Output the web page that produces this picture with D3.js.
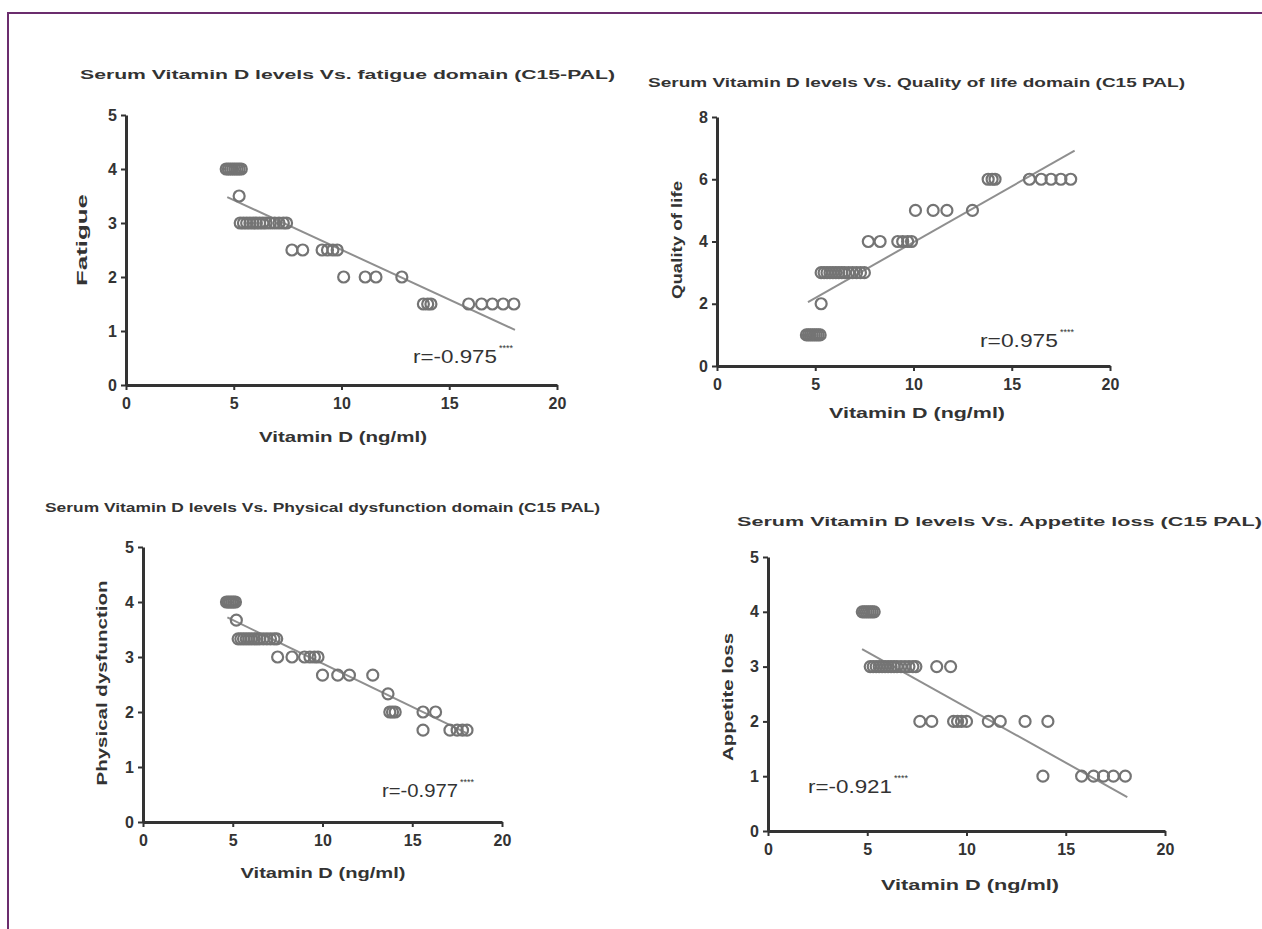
<!DOCTYPE html>
<html>
<head>
	<title>Vitamin D scatter plots</title>
	<script src="https://d3js.org/d3.v7.min.js" charset="utf-8"></script>
	<style>
		body { margin: 0; background: #fff; }
		text { font-family: "Liberation Sans", Arial, sans-serif; fill: #333; }
	</style>
</head>
<body>
	<svg width="1262" height="929"></svg>
	<script>
		// data (x = vitamin D ng/ml, y = domain score)
		const fatigueVitD = [4.65,4.75,4.85,4.95,5.05,5.15,5.25,5.35, 5.25, 5.3,5.45,5.6,5.75,5.9,6.05,6.2,6.35,6.5,6.7,6.9,7.1,7.3,7.45, 7.7,8.2,9.1,9.35,9.6,9.8, 10.1,11.1,11.6,12.8, 13.8,14.0,14.15, 15.9,16.5,17.0,17.5,18.0];
		const fatigueScore = [4,4,4,4,4,4,4,4, 3.5, 3,3,3,3,3,3,3,3,3,3,3,3,3,3, 2.5,2.5,2.5,2.5,2.5,2.5, 2,2,2,2, 1.5,1.5,1.5, 1.5,1.5,1.5,1.5,1.5];

		const qolVitD = [4.55,4.65,4.75,4.85,4.95,5.05,5.15,5.25, 5.3, 5.3,5.45,5.6,5.75,5.9,6.05,6.2,6.35,6.5,6.7,6.9,7.1,7.3,7.5, 7.7,8.3,9.2,9.45,9.7,9.9, 10.1,11.0,11.7,13.0, 13.8,14.0,14.15, 15.9,16.5,17.0,17.5,18.0];
		const qolScore = [1,1,1,1,1,1,1,1, 2, 3,3,3,3,3,3,3,3,3,3,3,3,3,3, 4,4,4,4,4,4, 5,5,5,5, 6,6,6, 6,6,6,6,6];

		const physVitD = [4.65,4.75,4.85,4.95,5.05,5.15, 5.2, 5.3,5.45,5.6,5.75,5.9,6.05,6.2,6.35,6.5,6.7,6.9,7.1,7.3,7.45, 7.5,8.3,9.0,9.3,9.55,9.75, 10.0,10.85,11.5,12.8, 13.65, 13.75,13.9,14.05, 15.6,16.3, 15.6, 17.1,17.5,17.8,18.05];
		const physScore = [4,4,4,4,4,4, 3.67, 3.33,3.33,3.33,3.33,3.33,3.33,3.33,3.33,3.33,3.33,3.33,3.33,3.33,3.33, 3,3,3,3,3,3, 2.67,2.67,2.67,2.67, 2.33, 2,2,2, 2,2, 1.67, 1.67,1.67,1.67,1.67];

		const appVitD = [4.75,4.85,4.95,5.05,5.15,5.25,5.35, 5.15,5.3,5.45,5.6,5.75,5.9,6.05,6.2,6.35,6.5,6.7,6.9,7.1,7.3,7.45, 8.5,9.2, 7.65,8.25, 9.35,9.55,9.75,10.0, 11.1,11.7, 12.95, 14.1, 13.85, 15.8,16.4,16.9,17.4,18.0];
		const appScore = [4,4,4,4,4,4,4, 3,3,3,3,3,3,3,3,3,3,3,3,3,3,3, 3,3, 2,2, 2,2,2,2, 2,2, 2, 2, 1, 1,1,1,1,1];

		// regression lines [x, y] end points
		const fatigueFit = [[4.7, 3.48], [18.05, 1.02]];
		const qolFit = [[4.63, 2.05], [18.2, 6.92]];
		const physFit = [[4.7, 3.72], [18.0, 1.62]];
		const appFit = [[4.74, 3.32], [18.1, 0.62]];

		const xTicks = [0, 5, 10, 15, 20];
		const yTicks5 = [0, 1, 2, 3, 4, 5];
		const yTicks8 = [0, 2, 4, 6, 8];

		const titles = [
			"Serum Vitamin D levels Vs. fatigue domain (C15-PAL)",
			"Serum Vitamin D levels Vs. Quality of life domain (C15 PAL)",
			"Serum Vitamin D levels Vs. Physical dysfunction domain (C15 PAL)",
			"Serum Vitamin D levels Vs. Appetite loss (C15 PAL)"
		];
		const yLabels = ["Fatigue", "Quality of life", "Physical dysfunction", "Appetite loss"];
		const xLabel = "Vitamin D (ng/ml)";
		const rValues = ["r=-0.975", "r=0.975", "r=-0.977", "r=-0.921"];

		// layout of each panel (pixels)
		const panels = [
			{ x: fatigueVitD, y: fatigueScore, fit: fatigueFit, yMax: 5, yTicks: yTicks5,
			  left: 126, right: 557, top: 115, bottom: 385,
			  title: [80, 79, 535], ylab: [82, 240, 92], xlab: [343, 442, 168], r: [413, 363, 84] },
			{ x: qolVitD, y: qolScore, fit: qolFit, yMax: 8, yTicks: yTicks8,
			  left: 717, right: 1110, top: 117, bottom: 366,
			  title: [648, 87, 537], ylab: [677, 240, 118], xlab: [917, 418, 176], r: [980, 347, 78] },
			{ x: physVitD, y: physScore, fit: physFit, yMax: 5, yTicks: yTicks5,
			  left: 143, right: 502, top: 547, bottom: 822,
			  title: [45, 512, 555], ylab: [102, 683, 205], xlab: [323, 878, 165], r: [382, 797, 76] },
			{ x: appVitD, y: appScore, fit: appFit, yMax: 5, yTicks: yTicks5,
			  left: 768, right: 1165, top: 557, bottom: 831,
			  title: [737, 526, 525], ylab: [728, 697, 128], xlab: [970, 890, 178], r: [808, 793, 84] }
		];

		const svg = d3.select('svg');

		// purple frame
		svg.append('path')
			.attr('d', 'M8,929 V13 H1262')
			.attr('fill', 'none')
			.attr('stroke', '#6b2d6d')
			.attr('stroke-width', 2);

		panels.forEach(function (p, i) {
			const xScale = d3.scaleLinear().domain([0, 20]).range([p.left, p.right]);
			const yScale = d3.scaleLinear().domain([0, p.yMax]).range([p.bottom, p.top]);

			const g = svg.append('g');

			const xAxis = g.append('g')
				.attr('transform', `translate(0, ${p.bottom})`)
				.call(d3.axisBottom(xScale).tickValues(xTicks).tickFormat(d3.format('d'))
					.tickSize(5).tickSizeOuter(0).tickPadding(8));
			const yAxis = g.append('g')
				.attr('transform', `translate(${p.left}, 0)`)
				.call(d3.axisLeft(yScale).tickValues(p.yTicks).tickFormat(d3.format('d'))
					.tickSize(5).tickSizeOuter(0).tickPadding(4));

			[xAxis, yAxis].forEach(function (a) {
				a.attr('font-size', 16).attr('font-weight', 'bold');
				a.select('.domain').attr('stroke', '#333').attr('stroke-width', 3);
				a.selectAll('.tick line').attr('stroke', '#333').attr('stroke-width', 2);
				a.selectAll('.tick text')
					.style('font-family', '"Liberation Sans", Arial, sans-serif')
					.style('font-weight', 'bold')
					.style('font-size', '16px')
					.attr('fill', '#333');
			});

			// regression line
			g.append('line')
				.attr('x1', xScale(p.fit[0][0])).attr('y1', yScale(p.fit[0][1]))
				.attr('x2', xScale(p.fit[1][0])).attr('y2', yScale(p.fit[1][1]))
				.attr('stroke', '#8f8f8f')
				.attr('stroke-width', 2);

			// points
			g.selectAll('circle')
				.data(p.x.map((d, j) => [d, p.y[j]]))
				.enter()
				.append('circle')
				.attr('cx', d => xScale(d[0]))
				.attr('cy', d => yScale(d[1]))
				.attr('r', 5.5)
				.attr('fill', 'none')
				.attr('stroke', '#747474')
				.attr('stroke-width', 2.2);

			// title
			g.append('text')
				.attr('x', p.title[0]).attr('y', p.title[1])
				.attr('textLength', p.title[2]).attr('lengthAdjust', 'spacingAndGlyphs')
				.style('font-weight', 'bold').style('font-size', '12px')
				.text(titles[i]);

			// axis labels
			g.append('text')
				.attr('transform', `translate(${p.ylab[0]}, ${p.ylab[1]}) rotate(-90)`)
				.attr('text-anchor', 'middle').attr('dy', '0.35em')
				.attr('textLength', p.ylab[2]).attr('lengthAdjust', 'spacingAndGlyphs')
				.style('font-weight', 'bold').style('font-size', '15px')
				.text(yLabels[i]);

			g.append('text')
				.attr('x', p.xlab[0]).attr('y', p.xlab[1])
				.attr('text-anchor', 'middle')
				.attr('textLength', p.xlab[2]).attr('lengthAdjust', 'spacingAndGlyphs')
				.style('font-weight', 'bold').style('font-size', '15px')
				.text(xLabel);

			// correlation
			const rt = g.append('text')
				.attr('x', p.r[0]).attr('y', p.r[1])
				.style('font-size', '19px').attr('fill', '#555');
			rt.append('tspan')
				.attr('textLength', p.r[2]).attr('lengthAdjust', 'spacingAndGlyphs')
				.text(rValues[i]);
			rt.append('tspan')
				.attr('dy', -12).attr('dx', 2)
				.style('font-size', '9px')
				.text('****');
		});
	</script>
</body>
</html>
